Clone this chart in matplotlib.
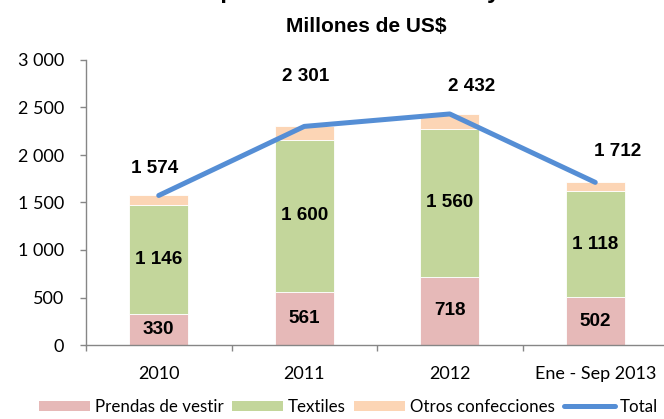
import matplotlib
matplotlib.use("Agg")
import matplotlib.pyplot as plt
from matplotlib.patches import Patch
from matplotlib.lines import Line2D
from matplotlib.ticker import FuncFormatter

# Datos (millones de US$)
categorias = ["2010", "2011", "2012", "Ene - Sep 2013"]
prendas = [330, 561, 718, 502]
textiles = [1146, 1600, 1560, 1118]
otros = [98, 140, 154, 92]
total = [1574, 2301, 2432, 1712]
y_ticks = [0, 500, 1000, 1500, 2000, 2500, 3000]

# desplazamiento de las etiquetas del total (pixeles)
total_offsets = [(-4, 27), (1, 50), (22, 27), (22, 31)]

c_prendas = "#E6B9B8"
c_textiles = "#C3D69B"
c_otros = "#FCD5B5"
c_total = "#558ED5"
c_axis = "#868686"

plt.rcParams['font.family'] = ['Lato', 'DejaVu Sans']


def fmt(v):
    return f"{int(v):,}".replace(",", " ")


W, H = 664, 419
fig = plt.figure(figsize=(W / 100, H / 100), dpi=100)
ax = fig.add_axes([86 / W, (H - 345) / H, 582 / W, 285 / H])

x = list(range(len(categorias)))
bw = 0.405
base2 = [p + t for p, t in zip(prendas, textiles)]
ax.bar(x, prendas, width=bw, color=c_prendas, edgecolor="white", linewidth=0.6)
ax.bar(x, textiles, width=bw, bottom=prendas, color=c_textiles, edgecolor="white", linewidth=0.6)
ax.bar(x, otros, width=bw, bottom=base2, color=c_otros, edgecolor="white", linewidth=0.6)
ax.plot(x, total, color=c_total, linewidth=3.6, solid_capstyle="round", solid_joinstyle="round")

lab_kw = dict(ha="center", va="center", fontsize=13.6, fontweight="bold", color="black",
              family="Liberation Sans")
for i in x:
    ax.text(i, prendas[i] / 2, fmt(prendas[i]), **lab_kw)
    ax.text(i, prendas[i] + textiles[i] / 2, fmt(textiles[i]), **lab_kw)
    dx, dy = total_offsets[i]
    ax.annotate(fmt(total[i]), (i, total[i]), xytext=(dx * 0.72, dy * 0.72),
                textcoords="offset points", **lab_kw)

ax.set_xlim(-0.5, 3.5)
ax.set_ylim(0, 3000)
ax.set_yticks(y_ticks)
ax.yaxis.set_major_formatter(FuncFormatter(lambda v, p: fmt(v)))
ax.set_xticks(x)
ax.set_xticklabels(categorias)
ax.set_xticks([i - 0.5 for i in range(len(categorias) + 1)], minor=True)

for s in ["top", "right"]:
    ax.spines[s].set_visible(False)
for s in ["left", "bottom"]:
    ax.spines[s].set_color(c_axis)
    ax.spines[s].set_linewidth(1.0)

ax.tick_params(axis="y", length=4, width=1, color=c_axis, pad=12, labelsize=13)
ax.tick_params(axis="x", which="major", length=0, pad=15, labelsize=13)
ax.tick_params(axis="x", which="minor", length=4, width=1, color=c_axis)

# titulo (la primera linea queda cortada por el borde superior)
fig.text(191 / W, 1 + 2 / H, "Exportaciones de textiles y confecciones", ha="left",
         va="baseline", fontsize=17.3, fontweight="bold", family="Liberation Sans")
fig.text(366 / W, 1 - 32 / H, "Millones de US$", ha="center", va="baseline",
         fontsize=15, fontweight="bold", family="Liberation Sans")

handles = [
    Patch(facecolor=c_prendas, edgecolor="none", label="Prendas de vestir"),
    Patch(facecolor=c_textiles, edgecolor="none", label="Textiles"),
    Patch(facecolor=c_otros, edgecolor="none", label="Otros confecciones"),
    Line2D([0], [0], color=c_total, linewidth=3.6, solid_capstyle="round", label="Total"),
]
fig.legend(handles=handles, loc="center left", bbox_to_anchor=(39 / W, 1 - 407 / H),
           ncol=4, frameon=False, fontsize=12.2, handlelength=3.0, handleheight=0.6,
           handletextpad=0.3, columnspacing=0.5, borderpad=0, borderaxespad=0)

fig.savefig("out.png", dpi=100)
